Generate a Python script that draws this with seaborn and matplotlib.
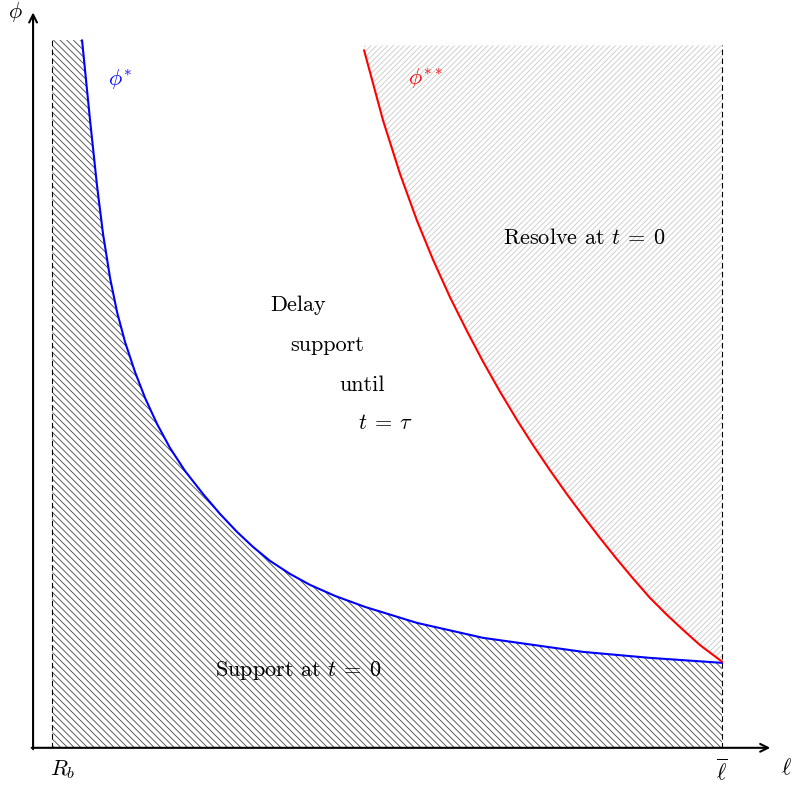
import numpy as np
import pandas as pd
import matplotlib.pyplot as plt
import seaborn as sns

# %%
# region boundaries (ell axis, phi axis)
R_b = 0.28
ell_bar = 10.0
phi_top = 10.28

# phi* threshold curve
phi_star_ell = [0.711, 0.827, 0.929, 1.016, 1.118, 1.219, 1.335, 1.480, 1.626,
                1.800, 1.988, 2.206, 2.467, 2.714, 2.961, 3.193, 3.440, 3.730,
                4.020, 4.383, 4.819, 5.573, 6.531, 7.983, 8.955, 10.0]
phi_star = [10.276, 9.115, 8.157, 7.460, 6.821, 6.328, 5.893, 5.457, 5.080,
            4.702, 4.354, 4.020, 3.686, 3.396, 3.135, 2.917, 2.714, 2.525,
            2.366, 2.206, 2.046, 1.814, 1.597, 1.393, 1.306, 1.234]

# phi** threshold curve
phi_2star_ell = [4.804, 5.080, 5.327, 5.573, 5.806, 6.052, 6.299, 6.531, 6.778,
                 7.025, 7.257, 7.504, 7.750, 7.983, 8.229, 8.476, 8.708, 8.955,
                 9.202, 9.434, 9.681, 10.0]
phi_2star = [10.131, 9.110, 8.332, 7.654, 7.086, 6.543, 6.049, 5.608, 5.171,
             4.759, 4.395, 4.029, 3.681, 3.367, 3.046, 2.737, 2.459, 2.176,
             1.929, 1.713, 1.491, 1.251]

df_star = pd.DataFrame({'ell': phi_star_ell, 'phi': phi_star})
df_2star = pd.DataFrame({'ell': phi_2star_ell, 'phi': phi_2star})

# %%
sns.set_style('white')
plt.rcParams['font.family'] = ['cmr10', 'DejaVu Serif']
plt.rcParams['mathtext.fontset'] = 'cm'
plt.rcParams['axes.unicode_minus'] = False
plt.rcParams['text.color'] = 'black'
plt.rcParams['hatch.linewidth'] = 0.6

fig = plt.figure(figsize=(7.93, 7.85), dpi=100)
ax = fig.add_axes([0, 0, 1, 1])
ax.set_xlim(-0.48, 11.03)
ax.set_ylim(-0.54, 10.86)
ax.axis('off')

# hatched regions
x_dark = [R_b] + phi_star_ell
y_dark = [phi_top] + phi_star
ax.fill_between(x_dark, 0, y_dark, facecolor='none', edgecolor='#444444',
                hatch='\\' * 5, linewidth=0)
ax.fill_between(phi_2star_ell, phi_2star, 10.2, facecolor='none',
                edgecolor='#c8c8c8', hatch='/' * 6, linewidth=0)

# dashed bounds
ax.plot([R_b, R_b], [0, phi_top], color='black', lw=0.8, ls=(0, (5, 3)))
ax.plot([ell_bar, ell_bar], [0, 10.2], color='black', lw=0.8, ls=(0, (5, 3)))

# curves
sns.lineplot(data=df_star, x='ell', y='phi', color='blue', lw=1.5, ax=ax,
             sort=False, estimator=None)
sns.lineplot(data=df_2star, x='ell', y='phi', color='red', lw=1.5, ax=ax,
             sort=False, estimator=None)

# axes arrows
arrow = dict(arrowstyle='->', color='black', lw=1.5, shrinkA=0, shrinkB=0,
             mutation_scale=14)
ax.annotate('', xy=(10.7, 0), xytext=(-0.02, 0), arrowprops=arrow)
ax.annotate('', xy=(0, 10.68), xytext=(0, -0.02), arrowprops=arrow)

fs = 16
ax.text(-0.26, 10.68, r'$\phi$', fontsize=fs, ha='center', va='center')
ax.text(10.94, -0.29, r'$\ell$', fontsize=fs, ha='center', va='center')
ax.text(0.43, -0.32, r'$R_b$', fontsize=fs, ha='center', va='center')
ax.text(10.0, -0.33, r'$\overline{\ell}$', fontsize=fs, ha='center', va='center')

ax.text(1.26, 9.70, r'$\phi^{*}$', color='blue', fontsize=fs, ha='center', va='center')
ax.text(5.69, 9.72, r'$\phi^{**}$', color='red', fontsize=fs, ha='center', va='center')

ax.text(3.85, 6.43, 'Delay', fontsize=fs, ha='center', va='center')
ax.text(4.27, 5.85, 'support', fontsize=fs, ha='center', va='center')
ax.text(4.78, 5.27, 'until', fontsize=fs, ha='center', va='center')
ax.text(5.11, 4.72, r'$t\:=\:\tau$', fontsize=fs, ha='center', va='center')
ax.text(3.85, 1.13, r'Support at $t\:=\:0$', fontsize=fs, ha='center', va='center')
ax.text(8.00, 7.40, r'Resolve at $t\:=\:0$', fontsize=fs, ha='center', va='center')

fig.savefig('out.png', dpi=100)
